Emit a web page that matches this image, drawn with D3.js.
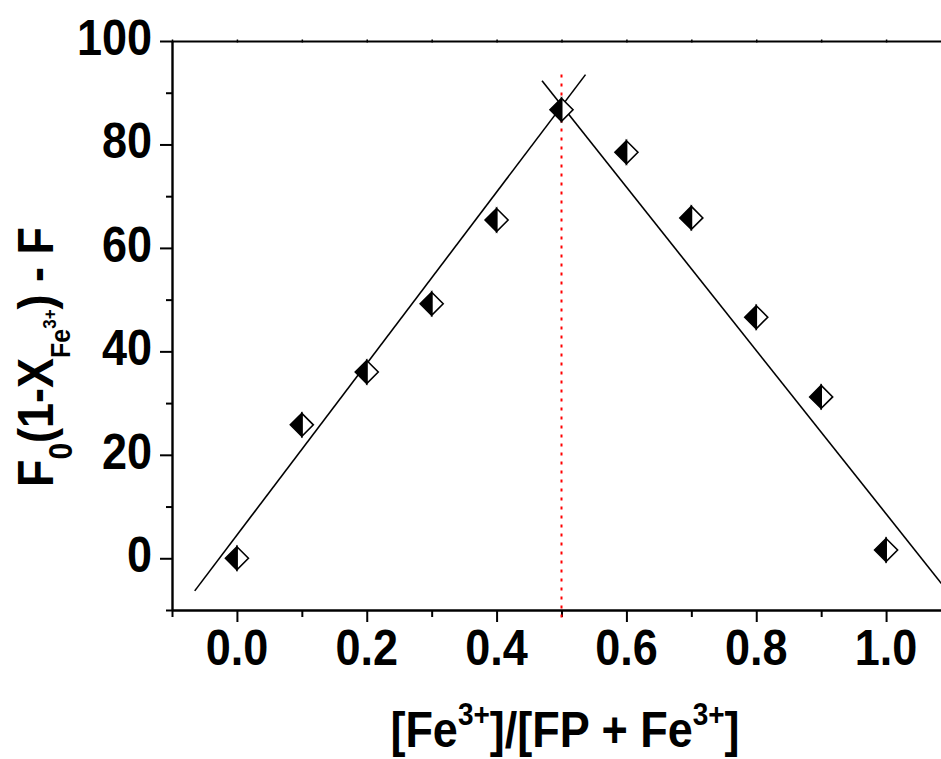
<!DOCTYPE html>
<html>
<head>
<meta charset="utf-8">
<script src="https://cdn.jsdelivr.net/npm/d3@7"></script>
<style>
  body { margin: 0; background: #fff; }
  svg { display: block; font-family: "Liberation Sans", Arial, sans-serif; font-weight: bold; }
</style>
</head>
<body>
<div id="chart"></div>
<script>
// Job plot data
const xValues = [0, 0.1, 0.2, 0.3, 0.4, 0.5, 0.6, 0.7, 0.8, 0.9, 1.0];
const yValues = [0, 25.8, 36.0, 49.2, 65.4, 86.7, 78.5, 65.8, 46.6, 31.2, 1.6];

// linear fits (end points, data units)
const leftFitX = [-0.065, 0.537];
const leftFitY = [-6.3, 93.5];
const rightFitX = [0.47, 1.1];
const rightFitY = [92.3, -7.2];

// red dotted marker at the stoichiometric point
const markX = 0.5;
const markY = [93.5, -12];

const xTicks = [-0.1, 0, 0.1, 0.2, 0.3, 0.4, 0.5, 0.6, 0.7, 0.8, 0.9, 1.0, 1.1];
const xLabels = [0, 0.2, 0.4, 0.6, 0.8, 1.0];
const yTicks = [-10, 0, 10, 20, 30, 40, 50, 60, 70, 80, 90, 100];
const yLabels = [0, 20, 40, 60, 80, 100];

var width = 941, height = 759;
var stretch = 1.13;

var svg = d3.select('#chart').append('svg')
    .attr('width', width)
    .attr('height', height);

var x = d3.scaleLinear().domain([-0.1, 1.1]).range([172, 951]);
var y = d3.scaleLinear().domain([-10, 100]).range([610, 41]);

function isMajor(list, v) {
    return list.some(function(l) { return Math.abs(l - v) < 1e-6; });
}

// bottom axis
var xAxis = svg.append('g')
    .attr('transform', 'translate(0,' + y(-10) + ')')
    .call(d3.axisBottom(x).tickValues(xTicks).tickSizeOuter(0).tickFormat(''));
xAxis.select('.domain').attr('stroke-width', 2.4);
xAxis.selectAll('.tick line')
    .attr('stroke-width', 2)
    .attr('y2', function(d) { return isMajor(xLabels, d) ? 12 : 7; });
xAxis.selectAll('.tick text').remove();
xAxis.selectAll('.lbl')
    .data(xLabels)
    .enter()
    .append('text')
    .attr('class', 'lbl')
    .attr('fill', '#000')
    .attr('text-anchor', 'middle')
    .attr('font-family', '"Liberation Sans", Arial, sans-serif')
    .attr('font-size', 45)
    .attr('transform', function(d) { return 'translate(' + x(d) + ',55) scale(1,' + stretch + ')'; })
    .text(function(d) { return d3.format('.1f')(d); });

// left axis
var yAxis = svg.append('g')
    .attr('transform', 'translate(' + x(-0.1) + ',0)')
    .call(d3.axisLeft(y).tickValues(yTicks).tickSizeOuter(0).tickFormat(''));
yAxis.select('.domain').attr('stroke-width', 2.4);
yAxis.selectAll('.tick line')
    .attr('stroke-width', 2)
    .attr('x2', function(d) { return isMajor(yLabels, d) ? -12 : -6; });
yAxis.selectAll('.tick text').remove();
yAxis.selectAll('.lbl')
    .data(yLabels)
    .enter()
    .append('text')
    .attr('class', 'lbl')
    .attr('fill', '#000')
    .attr('text-anchor', 'end')
    .attr('font-family', '"Liberation Sans", Arial, sans-serif')
    .attr('font-size', 45)
    .attr('transform', function(d) { return 'translate(-20,' + (y(d) + 14) + ') scale(1,' + stretch + ')'; })
    .text(function(d) { return d; });

// top frame line with tiny ticks
var topAxis = svg.append('g')
    .attr('transform', 'translate(0,' + y(100) + ')')
    .call(d3.axisTop(x).tickValues(xTicks).tickSizeOuter(0).tickFormat(''));
topAxis.select('.domain').attr('stroke-width', 2.2);
topAxis.selectAll('.tick line').attr('stroke-width', 1.5).attr('y1', -1.5).attr('y2', 1.5);

// red dotted line
svg.append('line')
    .attr('x1', x(markX)).attr('x2', x(markX))
    .attr('y1', y(markY[0])).attr('y2', y(markY[1]))
    .attr('stroke', '#ff0000')
    .attr('stroke-width', 2)
    .attr('stroke-dasharray', '3,6');

// fit lines
var line = d3.line()
    .x(function(d) { return x(d[0]); })
    .y(function(d) { return y(d[1]); });

svg.append('path')
    .datum(d3.zip(leftFitX, leftFitY))
    .attr('d', line)
    .attr('fill', 'none')
    .attr('stroke', '#000')
    .attr('stroke-width', 1.6);

svg.append('path')
    .datum(d3.zip(rightFitX, rightFitY))
    .attr('d', line)
    .attr('fill', 'none')
    .attr('stroke', '#000')
    .attr('stroke-width', 1.6);

// half filled diamonds
var r = 11.5;
var pts = svg.selectAll('.pt')
    .data(d3.zip(xValues, yValues))
    .enter()
    .append('g')
    .attr('class', 'pt')
    .attr('transform', function(d) { return 'translate(' + x(d[0]) + ',' + y(d[1]) + ')'; });

pts.append('path')
    .attr('d', 'M0,' + (-r) + 'L' + r + ',0L0,' + r + 'Z')
    .attr('fill', '#fff')
    .attr('stroke', '#000')
    .attr('stroke-width', 1.6)
    .attr('stroke-linejoin', 'miter');

pts.append('path')
    .attr('d', 'M0,' + (-r) + 'L' + (-r) + ',0L0,' + r + 'Z')
    .attr('fill', '#000')
    .attr('stroke', '#000')
    .attr('stroke-width', 1.6);

// x title
var xt = svg.append('text')
    .attr('text-anchor', 'middle')
    .attr('font-size', 45)
    .attr('transform', 'translate(565,747) scale(1,' + stretch + ')');
xt.append('tspan').text('[Fe');
xt.append('tspan').attr('font-size', 28).attr('dy', -19.5).text('3+');
xt.append('tspan').attr('dy', 19.5).text(']/[FP + Fe');
xt.append('tspan').attr('font-size', 28).attr('dy', -19.5).text('3+');
xt.append('tspan').attr('dy', 19.5).text(']');

// y title
var yt = svg.append('text')
    .attr('text-anchor', 'middle')
    .attr('font-size', 45)
    .attr('transform', 'translate(53,357) rotate(-90) scale(1,' + stretch + ')');
yt.append('tspan').text('F');
yt.append('tspan').attr('font-size', 30).attr('dy', 17).text('0');
yt.append('tspan').attr('dy', -17).text('(1-X');
yt.append('tspan').attr('font-size', 25).attr('dy', 15).text('Fe');
yt.append('tspan').attr('font-size', 17).attr('dy', -12).text('3+');
yt.append('tspan').attr('dy', -3).text(') - F');
</script>
</body>
</html>
